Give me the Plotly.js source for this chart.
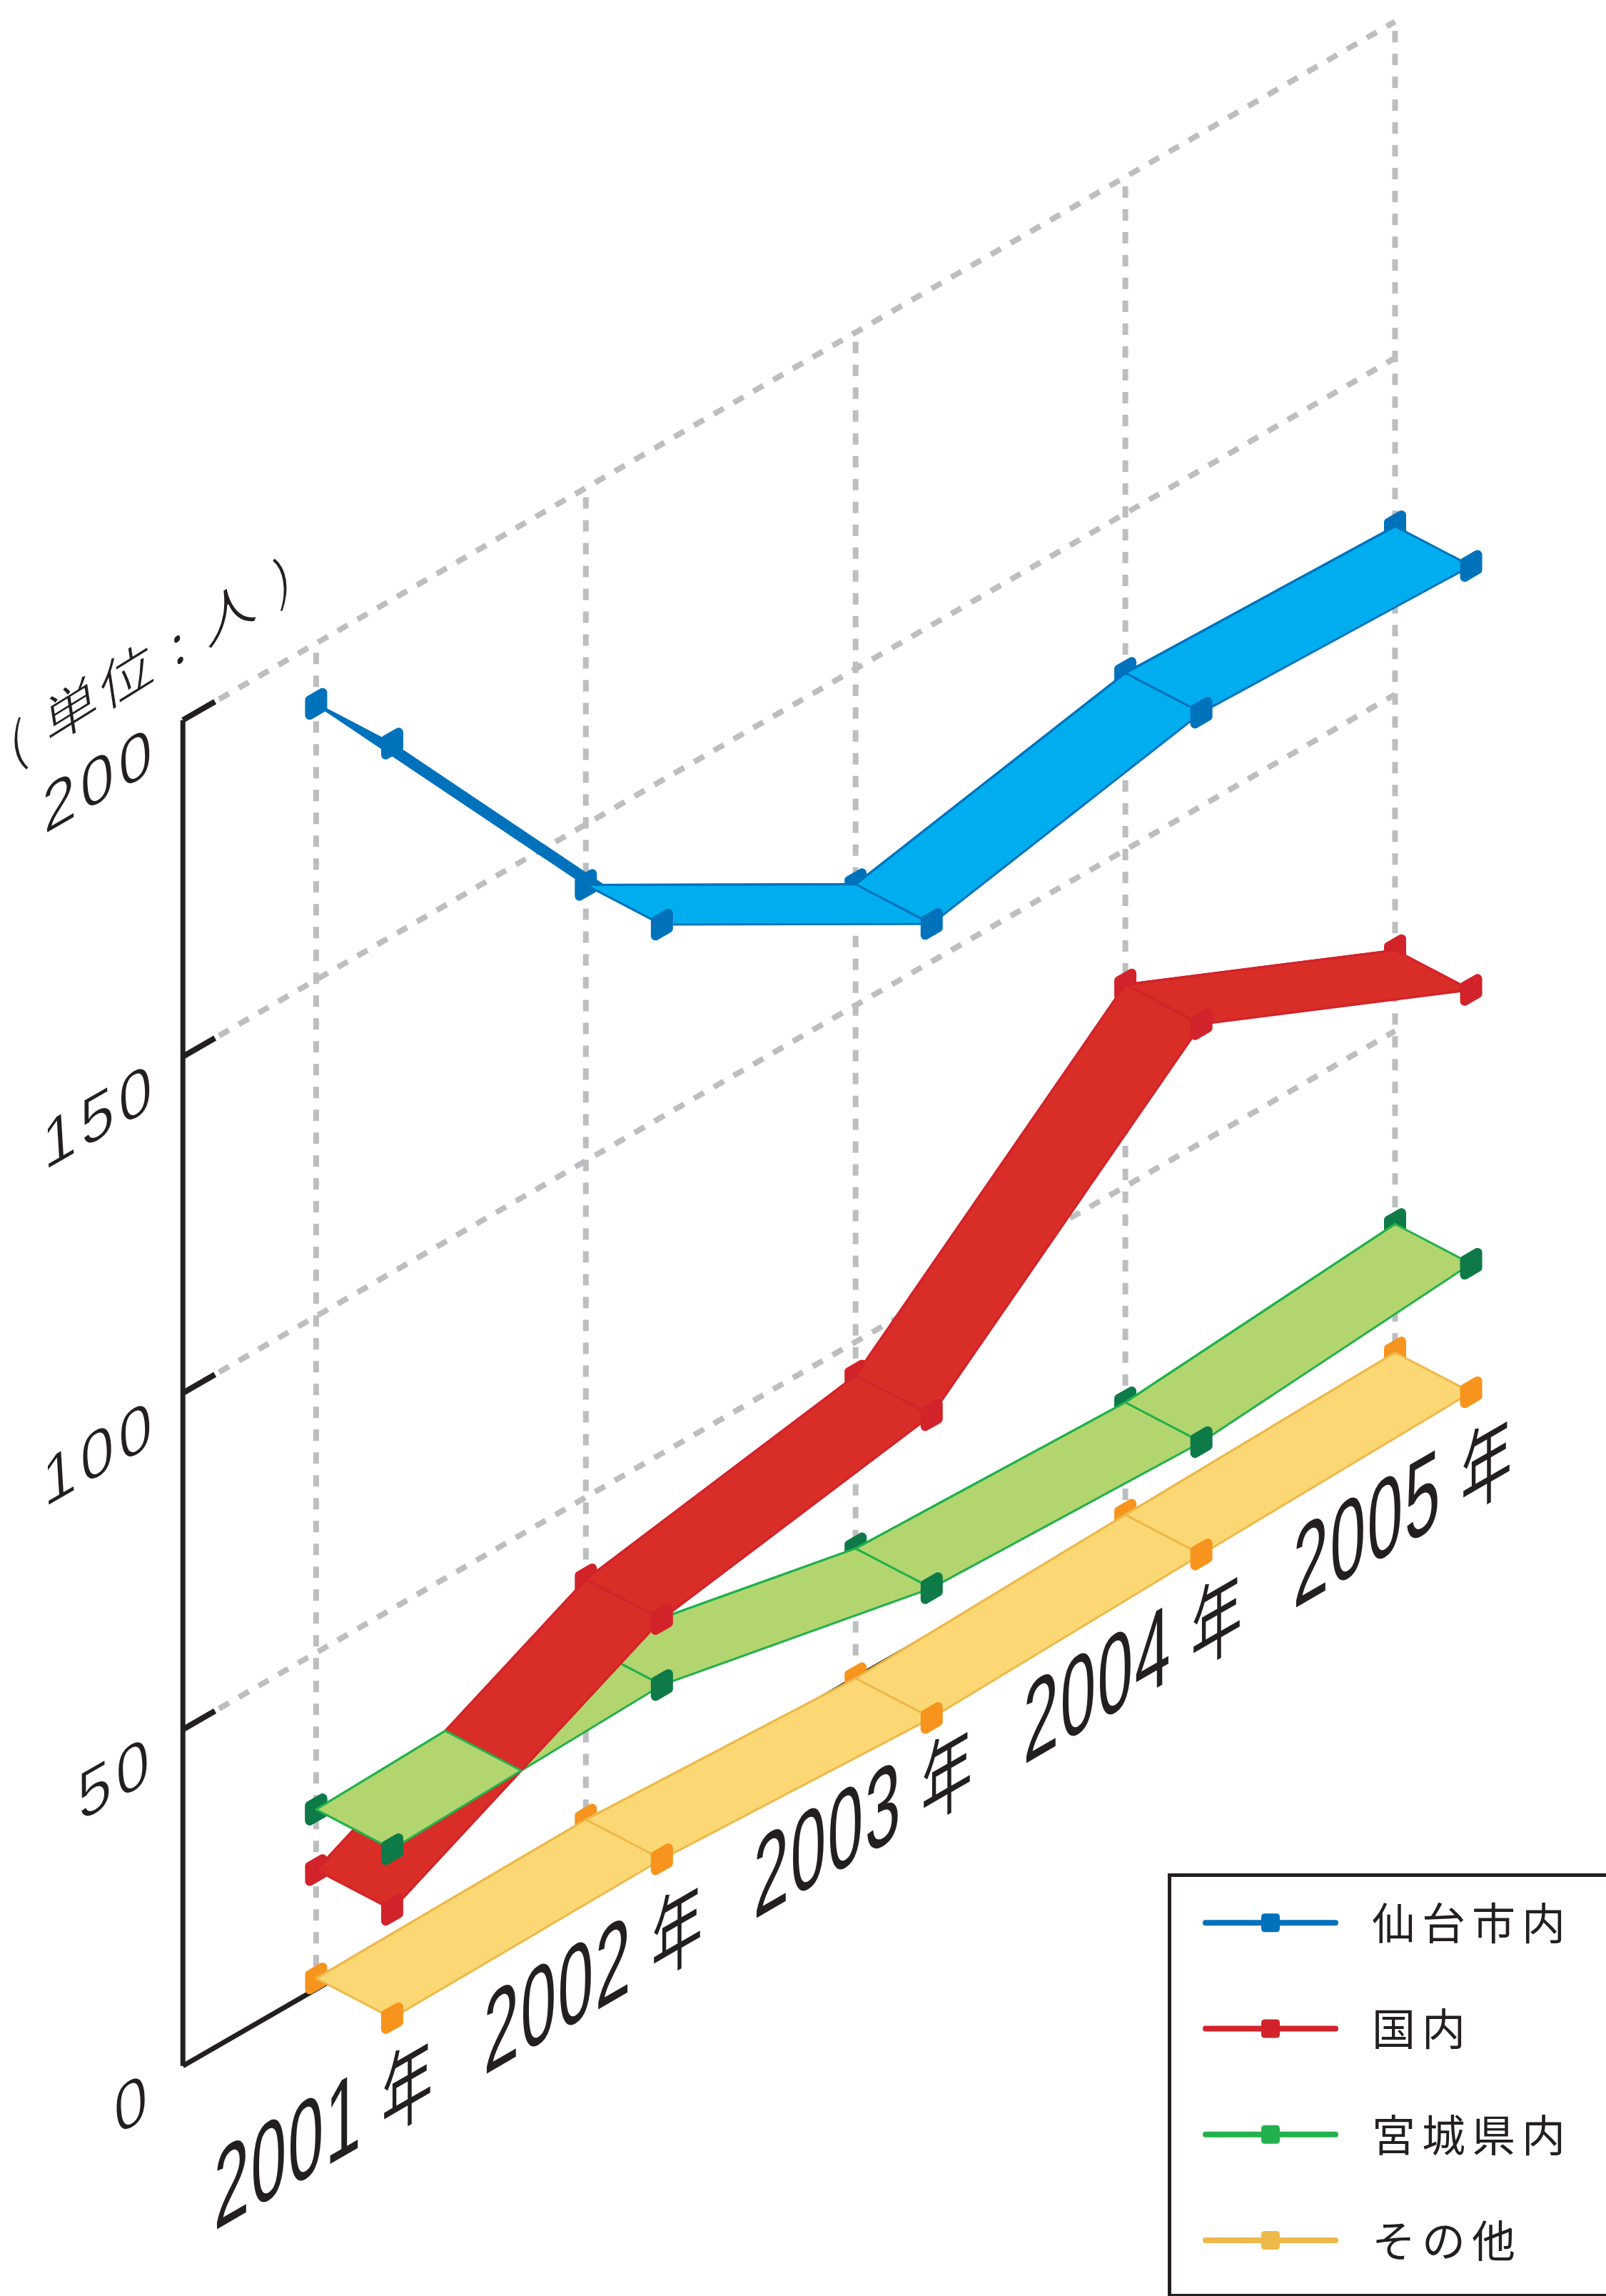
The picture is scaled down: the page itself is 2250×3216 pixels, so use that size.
<!DOCTYPE html>
<html><head><meta charset="utf-8">
<script src="https://cdn.plot.ly/plotly-3.0.1.min.js"></script>
<style>html,body{margin:0;padding:0;background:#fff}</style></head>
<body><div id="chart" style="width:2250px;height:3216px"></div>
<script>
const years = ['2001','2002','2003','2004','2005'];
const yearSuffix = '年';
const names = ['仙台市内','国内','宮城県内','その他'];
const sendai = [191, 141, 118, 126.3, 125];
const kokunai = [17.7, 37.8, 45, 80, 62];
const miyagi = [26.7, 28, 19.3, 17.9, 21.3];
const sonota = [1.6, 2.1, 0, 1.2, 2.2];
const valueTicks = [0, 50, 100, 150, 200];
const unitLabel = '( 単位 : 人 )';

const SHEAR = 23.1, DX = 0.282, DY = -5.9, AXIS_I = -0.494;
const px = (i, v, d = 0) => i + d * DX;
const py = (i, v, d = 0) => v + SHEAR * i + d * DY;
const PXX = 377.9, PXY = 9.424;
const traces = [];
const ln = (xs, ys, color, width, dash) => traces.push({type:'scatter', mode:'lines', x:xs, y:ys, line:{color, width, dash:dash||'solid', simplify:false}, hoverinfo:'skip', showlegend:false});
const poly = (xs, ys, fill, edge, width) => traces.push({type:'scatter', mode:'lines', x:xs, y:ys, fill:'toself', fillcolor:fill, line:{color:edge, width, simplify:false}, hoverinfo:'skip', showlegend:false});

// grid
const GRID = '#BCBEC0', INK = '#231F20', DASH = '16px,16px';
valueTicks.slice(1).forEach(v => {
  ln([px(-0.36), px(4)], [py(-0.36, v), py(4, v)], GRID, 8, DASH);
});
years.forEach((_, i) => ln([px(i), px(i)], [py(i, 0), py(i, 200)], GRID, 8, DASH));
// axis
ln([px(AXIS_I), px(AXIS_I)], [py(AXIS_I, 0), py(AXIS_I, 200)], INK, 7);
ln([px(AXIS_I), px(4)], [py(AXIS_I, 0), py(4, 0)], INK, 7);
valueTicks.slice(1).forEach(v => ln([px(AXIS_I), px(-0.375)], [py(AXIS_I, v), py(-0.375, v)], INK, 8));

function marker(i, v, d, color) {
  const hw = 9 / PXX, hh = 10.5 / PXY, s = 5.2 / PXY, x = px(i, v, d), y = py(i, v, d);
  poly([x-hw,x+hw,x+hw,x-hw,x-hw],[y-s-hh,y+s-hh,y+s+hh,y-s+hh,y-s-hh], color, color, 13);
}
function segment(vals, k, t0, t1, st) {
  const v = t => vals[k] + (vals[k+1] - vals[k]) * t;
  const xa = k + t0, xb = k + t1, va = v(t0), vb = v(t1);
  // face turned away from the viewer shows the darker underside
  const sdx = (xb-xa)*PXX, sdy = -((vb+SHEAR*xb)-(va+SHEAR*xa))*PXY;
  const ddx = DX*PXX, ddy = -DY*PXY;
  const under = sdx*ddy - sdy*ddx < 0;
  poly([px(xa),px(xb),px(xb,0,1),px(xa,0,1),px(xa)],
       [py(xa,va),py(xb,vb),py(xb,vb,1),py(xa,va,1),py(xa,va)],
       under ? st.edge : st.fill, st.edge, 3);
}
function series(vals, name, st, rank) {
  vals.forEach((v,i) => marker(i, v, 0, st.mark));
  for (let k = 0; k < vals.length-1; k++) segment(vals, k, 0, 1, st);
  vals.forEach((v,i) => marker(i, v, 1, st.mark));
  traces.push({type:'scatter', mode:'lines+markers', name, legendrank:rank, legendgroup:name,
    x: vals.map((v,i) => px(i)), y: vals.map((v,i) => py(i,v)),
    line:{color:st.edge, width:3, simplify:false}, marker:{size:2, symbol:'square', color:st.leg}, hoverinfo:'skip'});
}
const stBlue = {fill:'#00AEEF', edge:'#0072BC', mark:'#0072BC', leg:'#0072BC'};
const stRed = {fill:'#D92D27', edge:'#D2232A', mark:'#D2232A', leg:'#D2232A'};
const stGreen = {fill:'#B3D56F', edge:'#22B14C', mark:'#0E7A47', leg:'#22B14C'};
const stYel = {fill:'#FCD874', edge:'#EDB94A', mark:'#F7941D', leg:'#EDB94A'};

series(sonota, names[3], stYel, 4);
series(miyagi, names[2], stGreen, 3);
series(kokunai, names[1], stRed, 2);
// 宮城県内 lies above 国内 until the two series cross
const tc = (miyagi[0]-kokunai[0]) / ((kokunai[1]-kokunai[0]) - (miyagi[1]-miyagi[0]));
marker(0, miyagi[0], 0, stGreen.mark);
segment(miyagi, 0, 0, tc, stGreen);
marker(0, miyagi[0], 1, stGreen.mark);
series(sendai, names[0], stBlue, 1);

// text
const ann = [], skews = [];
const TXT = {xref:'x', yref:'y', showarrow:false};
years.forEach((t,i) => {
  ann.push({...TXT, text:`${t} <span style="font-size:125px">${yearSuffix}</span>`, x:px(i+0.03), y:py(i,0)-20.7, xanchor:'center', yanchor:'middle',
    font:{family:'"Liberation Sans","Noto Sans CJK JP"', size:157, color:INK}});
  skews.push({a:0.57,b:-0.329,c:0,d:1,ax:0.5,ls:'4px'});
});
valueTicks.forEach(v => {
  ann.push({...TXT, text:String(v), x:px(-0.614), y:py(AXIS_I,v)-3.8, xanchor:'right', yanchor:'middle',
    font:{family:'"Liberation Sans"', size:94, color:INK}});
  skews.push({a:0.9,b:-0.52,c:0.06,d:1,ax:1,ls:'7px',thin:true});
});
ann.push({...TXT, text:unitLabel, x:px(-0.613), y:py(AXIS_I,200)+9.5, xanchor:'center', yanchor:'middle',
  font:{family:'"Noto Sans CJK JP"', size:74, color:INK}});
skews.push({a:1,b:-0.62,c:0.15,d:1,ax:0.5,ls:'4px',thin:true});

const layout = {
  width:2250, height:3216, autosize:false,
  margin:{l:0,r:0,t:0,b:0,pad:0,autoexpand:false},
  paper_bgcolor:'#fff', plot_bgcolor:'#fff', showlegend:true,
  xaxis:{visible:false, range:[-1.172,4.782], fixedrange:true},
  yaxis:{visible:false, range:[-45.6,295.6], fixedrange:true},
  annotations:ann,
  legend:{x:1636/2250, xanchor:'left', y:1-(2624/3216), yanchor:'top', bgcolor:'#fff', bordercolor:INK, borderwidth:5,
    font:{family:'"Noto Sans CJK JP"', size:61, color:INK}, itemwidth:182, tracegroupgap:66, traceorder:'grouped', itemclick:false, itemdoubleclick:false}
};
Plotly.newPlot('chart', traces, layout, {displayModeBar:false}).then(gd => {
  document.querySelectorAll('.scatterlayer .trace').forEach((tr,i) => {
    const p = tr.querySelector('path.js-line'); if(!p) return;
    p.style.strokeLinejoin='round';
    if (traces[i] && traces[i].fill) p.style.strokeLinecap='round';
  });
  document.querySelectorAll('.annotation').forEach((g,i) => {
    const t = g.querySelector('text'), s = skews[i]; if(!t||!s) return;
    t.style.letterSpacing = s.ls;
    if (s.thin) { t.style.stroke='#fff'; t.style.strokeWidth='1.6px'; }
    const bb = t.getBBox(), cx = bb.x+bb.width*s.ax, cy = bb.y+bb.height/2;
    t.setAttribute('transform',`translate(${cx},${cy}) matrix(${s.a},${s.b},${s.c},${s.d},0,0) translate(${-cx},${-cy})`);
  });
  document.querySelectorAll('.legend .legendtext').forEach(t => {t.style.letterSpacing='9px'; t.setAttribute('transform','translate(46,0)');});
  document.querySelectorAll('.legend .legendlines path').forEach(p => {p.style.strokeWidth='8px'; p.style.strokeLinecap='round';});
  document.querySelectorAll('.legend .legendpoints path').forEach(p => {
    p.setAttribute('d','M-8,-13H8Q13,-13 13,-8V8Q13,13 8,13H-8Q-13,13 -13,8V-8Q-13,-13 -8,-13Z');
  });
  const sb = document.querySelector('.legend .scrollbox');
  if (sb) { sb.removeAttribute('clip-path'); sb.style.clipPath='none'; sb.setAttribute('transform','translate(43,18)'); }
  const bg = document.querySelector('.legend .bg');
  if (bg) { bg.setAttribute('height', 589); bg.setAttribute('width', 800); }
});
</script></body></html>
